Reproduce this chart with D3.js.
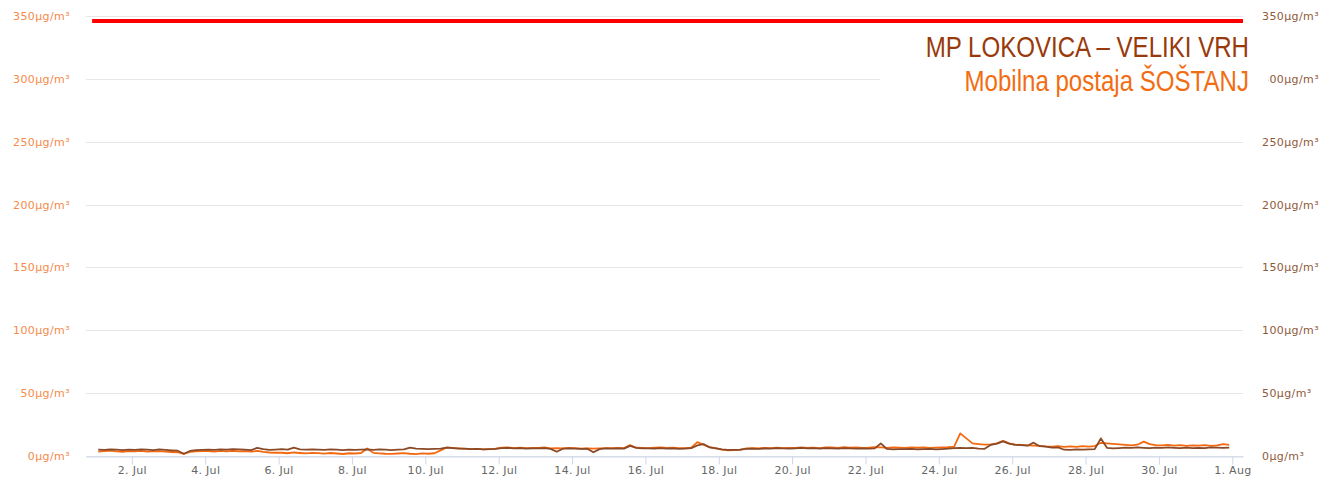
<!DOCTYPE html>
<html>
<head>
<meta charset="utf-8">
<script src="https://cdn.jsdelivr.net/npm/d3@7"></script>
<style>
  body { margin: 0; background: #fff; }
  svg { display: block; }
  .tick text { font-family: "DejaVu Sans", Verdana, sans-serif; }
</style>
</head>
<body>
<script>
// PM10 readings, July, one row = one day, 6 readings (02,06,10,14,18,22h)
var lokovica = [
    5.0,4.8,5.2,5.0,4.6,5.1,  4.9,5.3,5.0,4.7,5.2,4.8,  4.5,4.2,1.8,4.0,4.6,4.9,
    5.1,4.9,5.3,5.0,5.4,5.2,  5.0,4.7,6.4,5.5,4.9,5.1,  5.4,5.0,6.6,5.3,5.0,5.2,
    5.1,4.9,5.2,5.0,4.6,5.0,  4.8,5.1,5.3,4.9,5.2,5.0,  4.7,5.0,5.3,6.6,5.8,5.6,
    5.5,5.7,5.9,6.6,6.2,5.9,  5.8,5.5,5.6,5.2,5.4,5.6,  6.2,6.5,6.0,6.3,5.9,6.1,
    6.0,6.2,5.7,3.4,5.8,6.1,  5.9,5.6,5.8,3.0,5.5,6.0,  5.8,6.1,5.9,8.0,6.4,6.0,
    6.0,5.8,6.3,5.8,6.0,5.7,  5.9,6.2,8.5,9.5,6.8,6.0,  5.2,4.8,4.9,5.0,5.6,5.8,
    5.6,6.0,5.8,6.2,6.0,5.9,  6.1,6.4,6.0,6.2,5.8,6.3,  6.0,5.8,6.3,6.1,5.9,6.0,
    5.8,6.1,10.0,5.6,5.3,5.5, 5.4,5.6,5.2,5.5,5.7,5.3,  5.5,5.8,6.2,6.4,6.3,6.5,
    5.8,5.7,8.9,9.8,11.6,9.8, 8.8,8.6,8.2,10.6,7.8,7.5, 6.6,6.9,5.0,4.8,5.2,5.0,
    5.3,5.5,14.0,6.5,6.0,6.3, 6.6,6.4,6.9,6.5,6.2,6.7,  6.4,6.8,6.5,6.2,6.6,6.3,
    6.5,6.3,6.8,6.6,6.4,6.7
];
var sostanj = [
    3.5,3.8,4.2,3.6,3.3,3.9,  3.6,4.0,3.4,3.7,3.9,3.5,  3.2,3.0,1.6,3.3,3.6,3.8,
    3.9,3.5,4.1,3.7,4.0,3.6,  3.8,3.4,4.0,3.2,2.8,2.6,  2.6,2.2,2.8,2.4,2.1,2.5,
    2.3,1.9,2.4,2.0,1.6,2.2,  2.0,2.4,6.0,2.5,2.1,1.8,  1.7,2.0,2.3,1.8,1.5,2.1,
    1.8,2.2,4.5,6.8,6.4,6.0,  5.6,5.4,5.7,5.3,5.5,5.8,  6.6,6.9,6.3,6.7,6.2,6.5,
    6.4,6.8,6.1,6.3,6.0,6.4,  6.2,5.9,6.1,5.8,6.0,6.3,  6.2,6.5,6.3,8.7,6.6,6.4,
    6.3,6.6,6.9,6.4,6.7,6.2,  6.3,6.6,11.0,9.0,7.0,6.3, 5.0,4.5,4.6,4.8,6.0,6.2,
    6.0,6.4,6.2,6.6,6.3,6.5,  6.5,6.8,6.4,6.7,6.2,6.9,  6.8,6.4,7.0,6.6,6.9,6.5,
    6.6,7.0,6.8,6.5,6.9,6.7,  6.5,6.8,6.6,6.9,6.4,6.7,  6.8,7.0,7.5,18.0,14.0,10.0,
    9.5,9.0,9.2,10.0,12.0,10.0, 9.0,8.8,8.4,8.2,8.0,7.6, 7.4,7.8,7.2,7.6,7.3,7.8,
    7.5,7.9,10.5,10.0,9.6,9.2, 8.8,8.5,9.0,11.4,9.5,8.7, 8.4,8.8,8.2,8.6,8.0,8.4,
    8.2,8.6,8.0,8.4,9.5,8.8
];
var firstReading = Date.UTC(2020, 6, 1, 2);
var readingStepHours = 4;

var limitValue = 346;
var limitDates = [new Date(Date.UTC(2020, 5, 30, 22)), new Date(Date.UTC(2020, 7, 1, 7))];

var xDomain = [new Date(Date.UTC(2020, 5, 30, 18)), new Date(Date.UTC(2020, 7, 1, 7))];
var yTicks = [0, 50, 100, 150, 200, 250, 300, 350];
var tickStart = new Date(Date.UTC(2020, 6, 2));
var tickStop = new Date(Date.UTC(2020, 7, 2));

var titleMain = 'MP LOKOVICA – VELIKI VRH';
var titleSub = 'Mobilna postaja ŠOŠTANJ';

var svg = d3.select('body').append('svg')
    .attr('width', 1323)
    .attr('height', 477);

var margin = { top: 16, right: 80, bottom: 21, left: 86 },
    width = +svg.attr('width') - margin.left - margin.right,
    height = +svg.attr('height') - margin.top - margin.bottom,
    g = svg.append('g').attr('transform', 'translate(' + margin.left + ',' + margin.top + ')');

var x = d3.scaleUtc().domain(xDomain).range([0, width]);
var y = d3.scaleLinear().domain([0, 350]).range([height, 0]);

function toPoints(values) {
    return values.map(function (v, i) {
        return { date: new Date(firstReading + i * readingStepHours * 3600000), value: v };
    });
}

// grid
g.append('g')
    .selectAll('line')
    .data(yTicks)
    .enter().append('line')
    .attr('x1', 0)
    .attr('x2', width)
    .attr('y1', function (d) { return Math.round(y(d)) + 0.5; })
    .attr('y2', function (d) { return Math.round(y(d)) + 0.5; })
    .attr('stroke', '#e6e6e6');

// x axis
var xAxis = g.append('g')
    .attr('transform', 'translate(0,' + (Math.round(height) + 0.5) + ')')
    .call(d3.axisBottom(x)
        .tickValues(d3.utcDay.range(tickStart, tickStop, 2))
        .tickFormat(d3.utcFormat('%-d. %b'))
        .tickSize(8)
        .tickPadding(2)
        .tickSizeOuter(0));
xAxis.select('.domain').attr('stroke', '#ccd6eb');
xAxis.selectAll('.tick line').attr('stroke', '#ccd6eb');
xAxis.selectAll('.tick text')
    .attr('fill', '#666')
    .style('font-size', '11px')
    .style('letter-spacing', '0.3px');

// left axis (orange) and right axis (brown)
var leftAxis = g.append('g')
    .call(d3.axisLeft(y).tickValues(yTicks).tickSize(0).tickPadding(16)
        .tickFormat(function (d) { return d + 'µg/m³'; }));
leftAxis.select('.domain').remove();
leftAxis.selectAll('.tick text')
    .attr('fill', '#f58a4a')
    .style('font-size', '11px')
    .style('letter-spacing', '0.4px');

var rightAxis = g.append('g')
    .attr('transform', 'translate(' + width + ',0)')
    .call(d3.axisRight(y).tickValues(yTicks).tickSize(0).tickPadding(19)
        .tickFormat(function (d) { return d + 'µg/m³'; }));
rightAxis.select('.domain').remove();
rightAxis.selectAll('.tick text')
    .attr('fill', '#8f5a3a')
    .style('font-size', '11px')
    .style('letter-spacing', '0.4px');

// limit line
g.append('line')
    .attr('x1', x(limitDates[0]))
    .attr('x2', x(limitDates[1]))
    .attr('y1', y(limitValue))
    .attr('y2', y(limitValue))
    .attr('stroke', '#ff0000')
    .attr('stroke-width', 4);

var line = d3.line()
    .x(function (d) { return x(d.date); })
    .y(function (d) { return y(d.value); });

g.append('path')
    .datum(toPoints(sostanj))
    .attr('fill', 'none')
    .attr('stroke', '#f4690f')
    .attr('stroke-width', 1.8)
    .attr('stroke-linejoin', 'round')
    .attr('d', line);

g.append('path')
    .datum(toPoints(lokovica))
    .attr('fill', 'none')
    .attr('stroke', '#8a4a28')
    .attr('stroke-width', 1.8)
    .attr('stroke-linejoin', 'round')
    .attr('d', line);

// legend box with the two station names
var legend = svg.append('g');
legend.append('rect')
    .attr('x', 880)
    .attr('y', 28)
    .attr('width', 388)
    .attr('height', 70)
    .attr('fill', '#fff');

function narrowTitle(sel) {
    // no condensed face installed: squeeze the regular one to narrow proportions
    var full = sel.node().getComputedTextLength();
    if (full > 0) {
        sel.attr('textLength', full * 0.83).attr('lengthAdjust', 'spacingAndGlyphs');
    }
}

legend.append('text')
    .attr('x', 1249)
    .attr('y', 57)
    .attr('text-anchor', 'end')
    .attr('fill', '#983a0c')
    .style('font-family', '"Liberation Sans Narrow", "Arial Narrow", "Liberation Sans", sans-serif')
    .style('font-size', '29px')
    .text(titleMain)
    .call(narrowTitle);

legend.append('text')
    .attr('x', 1249)
    .attr('y', 91)
    .attr('text-anchor', 'end')
    .attr('fill', '#f26d12')
    .style('font-family', '"Liberation Sans Narrow", "Arial Narrow", "Liberation Sans", sans-serif')
    .style('font-size', '29px')
    .text(titleSub)
    .call(narrowTitle);
</script>
</body>
</html>
